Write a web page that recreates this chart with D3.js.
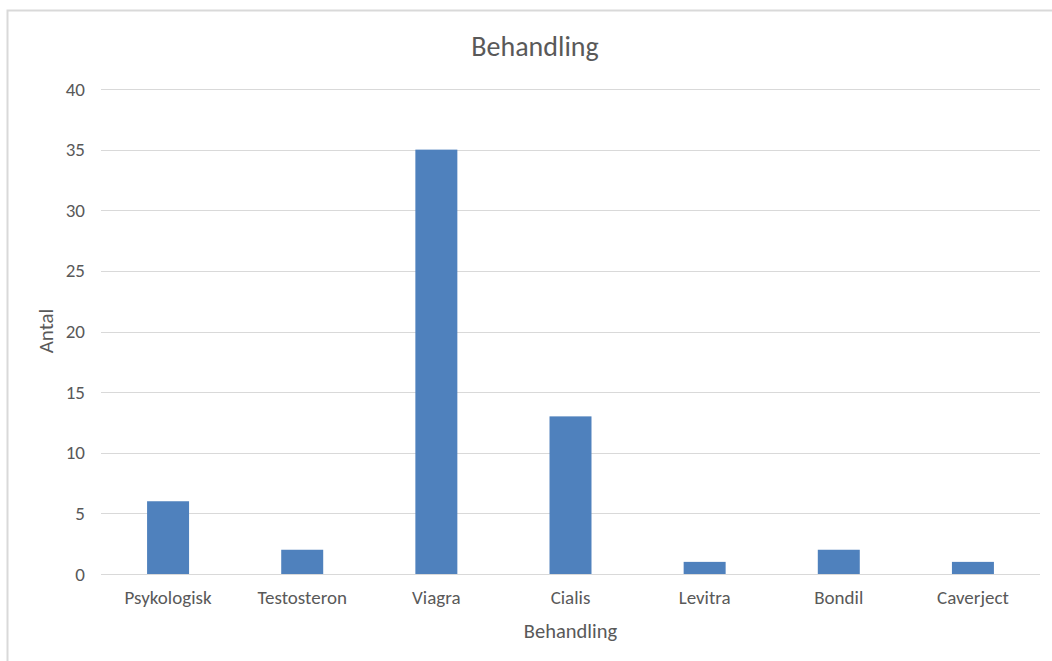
<!DOCTYPE html>
<html>
<head>
<meta charset="utf-8">
<script src="https://cdn.jsdelivr.net/npm/d3@7"></script>
<style>
  body { margin: 0; background: #fff; }
  text { font-family: Calibri, Carlito, Lato, sans-serif; fill: #595959; }
</style>
</head>
<body>
<script>
var svgWidth = 1052;
var svgHeight = 661;

var categories = ["Psykologisk", "Testosteron", "Viagra", "Cialis", "Levitra", "Bondil", "Caverject"];
var antal = [6, 2, 35, 13, 1, 2, 1];
var yTicks = [0, 5, 10, 15, 20, 25, 30, 35, 40];

var margin = { top: 89, right: 12, bottom: 87, left: 101 };
var width = svgWidth - margin.left - margin.right;
var height = svgHeight - margin.top - margin.bottom;

var svg = d3.select("body")
  .append("svg")
  .attr("width", svgWidth)
  .attr("height", svgHeight);

// chart border (runs off the right and bottom edge)
svg.append("rect")
  .attr("x", 7.5)
  .attr("y", 10.5)
  .attr("width", 1100)
  .attr("height", 700)
  .attr("fill", "none")
  .attr("stroke", "#d9d9d9")
  .attr("stroke-width", 2);

var plot = svg.append("g")
  .attr("transform", `translate(${margin.left}, ${margin.top})`);

var xScale = d3.scaleBand()
  .domain(categories)
  .range([0, width])
  .paddingInner(0.687)
  .paddingOuter(0.3435);

var yScale = d3.scaleLinear()
  .domain([0, 40])
  .range([height, 0]);

// gridlines
plot.append("g")
  .selectAll("line")
  .data(yTicks)
  .enter()
  .append("line")
  .attr("x1", 0)
  .attr("x2", width)
  .attr("y1", d => Math.round(yScale(d)) + 0.5)
  .attr("y2", d => Math.round(yScale(d)) + 0.5)
  .attr("stroke", "#d9d9d9")
  .attr("stroke-width", 1);

// bars
plot.append("g")
  .selectAll("rect")
  .data(antal)
  .enter()
  .append("rect")
  .attr("x", (d, i) => xScale(categories[i]))
  .attr("y", d => yScale(d))
  .attr("width", xScale.bandwidth())
  .attr("height", d => height - yScale(d))
  .attr("fill", "#4f81bd");

// y axis labels
var yAxis = d3.axisLeft(yScale).tickValues(yTicks).tickSize(0).tickPadding(16);
var yg = plot.append("g").call(yAxis);
yg.select(".domain").remove();
yg.selectAll("text")
  .style("font-size", "19px")
  .attr("fill", "#595959")
  .attr("font-family", null);

// x axis labels
var xAxis = d3.axisBottom(xScale).tickSize(0).tickPadding(17);
var xg = plot.append("g")
  .attr("transform", `translate(0, ${height})`)
  .call(xAxis);
xg.select(".domain").remove();
xg.selectAll("text")
  .style("font-size", "19px")
  .attr("fill", "#595959")
  .attr("font-family", null);

// title, centred on the whole chart
svg.append("text")
  .attr("x", 535)
  .attr("y", 56)
  .attr("text-anchor", "middle")
  .style("font-size", "28px")
  .text("Behandling");

// axis titles
svg.append("text")
  .attr("x", margin.left + width / 2)
  .attr("y", 638)
  .attr("text-anchor", "middle")
  .style("font-size", "20.5px")
  .text("Behandling");

svg.append("text")
  .attr("transform", "translate(53, 331) rotate(-90)")
  .attr("text-anchor", "middle")
  .style("font-size", "21px")
  .text("Antal");
</script>
</body>
</html>
